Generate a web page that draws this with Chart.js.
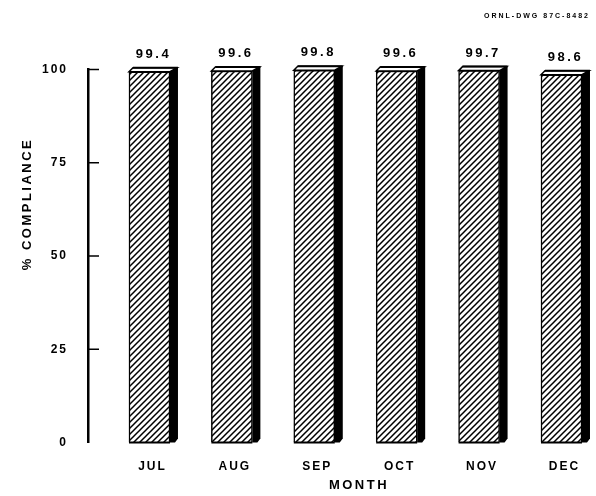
<!DOCTYPE html>
<html>
<head>
<meta charset="utf-8">
<script src="https://cdn.jsdelivr.net/npm/chart.js@4/dist/chart.umd.min.js"></script>
<style>
  html, body { margin: 0; padding: 0; background: #fff; }
  canvas { display: block; }
</style>
</head>
<body>
<canvas id="barChart" width="596" height="496"></canvas>
<script>
// データ
const months = ['JUL', 'AUG', 'SEP', 'OCT', 'NOV', 'DEC'];
const compliance = [99.4, 99.6, 99.8, 99.6, 99.7, 98.6];
const yTicks = [0, 25, 50, 75, 100];

const FONT = '"Liberation Sans", Arial, sans-serif';

/* ▼ 斜線ハッチのパターン */
function makeHatch() {
  const c = document.createElement('canvas');
  c.width = 6;
  c.height = 6;
  const g = c.getContext('2d');
  g.fillStyle = '#fff';
  g.fillRect(0, 0, 6, 6);
  g.strokeStyle = '#000';
  g.lineWidth = 1.5;
  g.beginPath();
  g.moveTo(-1, 7); g.lineTo(7, -1);
  g.moveTo(-1, 1); g.lineTo(1, -1);
  g.moveTo(5, 7); g.lineTo(7, 5);
  g.stroke();
  return g.createPattern(c, 'repeat');
}

const ctx = document.getElementById('barChart').getContext('2d');

// 文字間隔（Chart.js の目盛り文字にも効かせる）
const spacingPlugin = {
  id: 'spacing',
  beforeLayout(chart) { chart.ctx.letterSpacing = '2px'; },
  beforeDraw(chart) { chart.ctx.letterSpacing = '2px'; }
};

// 立体の側面・上面、目盛り線、数値ラベル、軸タイトル
const decoPlugin = {
  id: 'deco',
  afterDatasetsDraw(chart) {
    const c = chart.ctx;
    const meta = chart.getDatasetMeta(0);
    const d = 8, h = 4;
    c.save();
    meta.data.forEach((bar) => {
      const x0 = bar.x - bar.width / 2;
      const x1 = bar.x + bar.width / 2;
      const y = bar.y, base = bar.base;
      // 側面（黒）
      c.fillStyle = '#000';
      c.beginPath();
      c.moveTo(x1, y - h);
      c.lineTo(x1 + d, y - h);
      c.lineTo(x1 + d, base - 4);
      c.lineTo(x1 + d - 3, base);
      c.lineTo(x1, base);
      c.closePath();
      c.fill();
      // 上面
      c.fillStyle = '#fff';
      c.strokeStyle = '#000';
      c.lineWidth = 1.5;
      c.beginPath();
      c.moveTo(x0, y);
      c.lineTo(x0 + h, y - h);
      c.lineTo(x1 + d - 1, y - h);
      c.lineTo(x1, y);
      c.closePath();
      c.fill();
      c.stroke();
      c.lineWidth = 2;
      c.beginPath();
      c.moveTo(x0 + h, y - h);
      c.lineTo(x1 + d, y - h);
      c.stroke();
      // 下辺
      c.beginPath();
      c.moveTo(x0, base);
      c.lineTo(x1, base);
      c.stroke();
    });

    // 数値ラベル
    c.fillStyle = '#000';
    c.font = 'bold 13px ' + FONT;
    c.letterSpacing = '2.5px';
    c.textAlign = 'center';
    c.textBaseline = 'alphabetic';
    meta.data.forEach((bar, i) => {
      c.fillText(compliance[i].toFixed(1), bar.x + 4, bar.y - 14);
    });
    c.restore();
  },
  afterDraw(chart) {
    const c = chart.ctx;
    const ys = chart.scales.y;
    const left = chart.chartArea.left;
    c.save();
    // ▼ 内向きの目盛り線
    c.strokeStyle = '#000';
    c.lineWidth = 1.5;
    ys.ticks.forEach((t) => {
      if (t.value === 0) return;
      const py = ys.getPixelForValue(t.value);
      c.beginPath();
      c.moveTo(left, py);
      c.lineTo(left + 11, py);
      c.stroke();
    });

    c.fillStyle = '#000';
    c.textAlign = 'center';
    c.textBaseline = 'middle';

    // y 軸タイトル
    c.font = 'bold 13px ' + FONT;
    c.letterSpacing = '2.5px';
    c.save();
    c.translate(27, 204);
    c.rotate(-Math.PI / 2);
    c.fillText('% COMPLIANCE', 0, 0);
    c.restore();

    // x 軸タイトル
    c.fillText('MONTH', 359, 485);

    // 図番号
    c.font = 'bold 7px ' + FONT;
    c.letterSpacing = '2px';
    c.textAlign = 'right';
    c.fillText('ORNL-DWG 87C-8482', 590, 16);
    c.restore();
  }
};

new Chart(ctx, {
  type: 'bar',
  data: {
    datasets: [{
      label: '% COMPLIANCE',
      data: compliance.map((v, i) => ({ x: i, y: v })),
      backgroundColor: makeHatch(),
      borderColor: '#000',
      borderWidth: 1.5,
      barThickness: 41
    }]
  },
  options: {
    responsive: false,
    animation: false,
    layout: {
      padding: { top: 69.5, left: 0, right: 6, bottom: 0 }
    },
    plugins: {
      legend: { display: false },
      tooltip: { enabled: false }
    },
    scales: {
      x: {
        type: 'linear',
        offset: false,
        min: -0.746,
        max: 5.346,
        afterBuildTicks: (s) => {
          s.ticks = months.map((m, i) => ({ value: i }));
        },
        afterFit: (s) => { s.height = 53.5; },
        grid: { display: false },
        border: { display: false },
        ticks: {
          autoSkip: false,
          maxRotation: 0,
          padding: 9,
          labelOffset: 3,
          color: '#000',
          font: { size: 12, weight: 'bold', family: FONT },
          callback: (v) => months[v]
        }
      },
      y: {
        min: 0,
        max: 100,
        afterBuildTicks: (s) => {
          s.ticks = yTicks.map((v) => ({ value: v }));
        },
        afterFit: (s) => { s.width = 88; },
        grid: { display: false },
        border: { display: true, color: '#000', width: 2.5 },
        ticks: {
          padding: 12,
          color: '#000',
          font: { size: 12, weight: 'bold', family: FONT }
        }
      }
    }
  },
  plugins: [spacingPlugin, decoPlugin]
});
</script>
</body>
</html>
